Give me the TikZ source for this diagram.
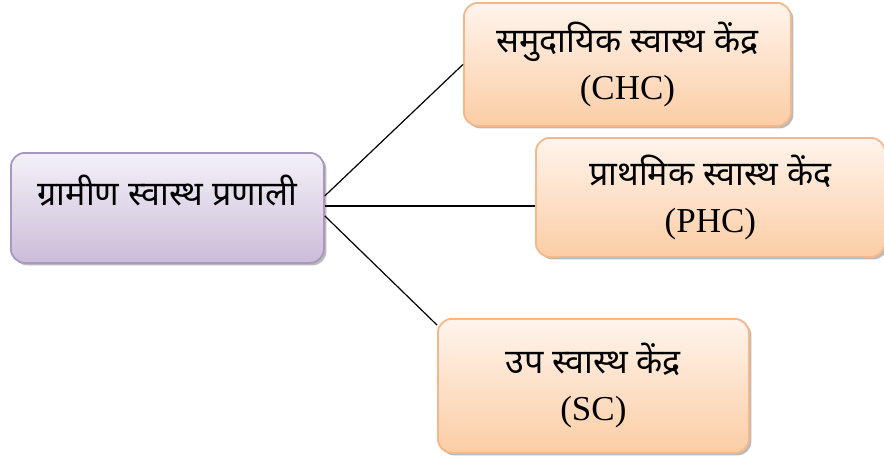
\documentclass[tikz,border=0pt]{standalone}
\usepackage{fontspec}
\setmainfont{Liberation Serif}
\newfontfamily\deva[Script=Devanagari]{Noto Sans}
\usetikzlibrary{shadows,calc}
\definecolor{lavtop}{HTML}{F4F1F8}
\definecolor{lavbot}{HTML}{CBBCD9}
\definecolor{lavline}{HTML}{A898C0}
\definecolor{ortop}{HTML}{FFF4EC}
\definecolor{orbot}{HTML}{FBCDA5}
\definecolor{orline}{HTML}{F5B88A}
\tikzset{
  x=1pt, y=1pt,
  basebox/.style={rounded corners=14pt, line width=1.8pt, inner sep=0pt,
    drop shadow={shadow xshift=2.5pt, shadow yshift=-2.5pt, fill=black!45, opacity=0.6}},
  rootbox/.style={basebox, draw=lavline, top color=lavtop, bottom color=lavbot},
  subbox/.style={basebox, draw=orline, top color=ortop, bottom color=orbot, align=center,
    font=\fontsize{35}{47}\selectfont},
  devatext/.style={font=\deva\fontsize{34}{40}\selectfont},
  link/.style={line width=1.2pt, black}
}
\begin{document}
\begin{tikzpicture}
\useasboundingbox (0,0) rectangle (884,-459);
\node[rootbox, minimum width=313pt, minimum height=110pt, anchor=north west] (root) at (10,-152) {};
\node[devatext] (roottext) at ($(root.center)+(0,17)$) {ग्रामीण स्वास्थ प्रणाली};
\node[subbox, minimum width=327pt, minimum height=123pt, anchor=north west] (chc) at (463,-2)
  {{\deva\fontsize{34}{40}\selectfont समुदायिक स्वास्थ केंद्र}\\(CHC)};
\node[subbox, minimum width=349pt, minimum height=119pt, anchor=north west] (phc) at (535,-137)
  {{\deva\fontsize{34}{40}\selectfont प्राथमिक स्वास्थ केंद}\\(PHC)};
\node[subbox, minimum width=311pt, minimum height=134pt, anchor=north west] (sc) at (437,-318)
  {{\deva\fontsize{34}{40}\selectfont उप स्वास्थ केंद्र}\\(SC)};
\draw[link] ([yshift=12pt]root.east) -- (chc.west);
\draw[link] ([yshift=2pt]root.east) -- ([yshift=2pt]root.east -| phc.west);
\draw[link] ([yshift=-8pt]root.east) -- ([yshift=-7pt]sc.north west);
\end{tikzpicture}
\end{document}
